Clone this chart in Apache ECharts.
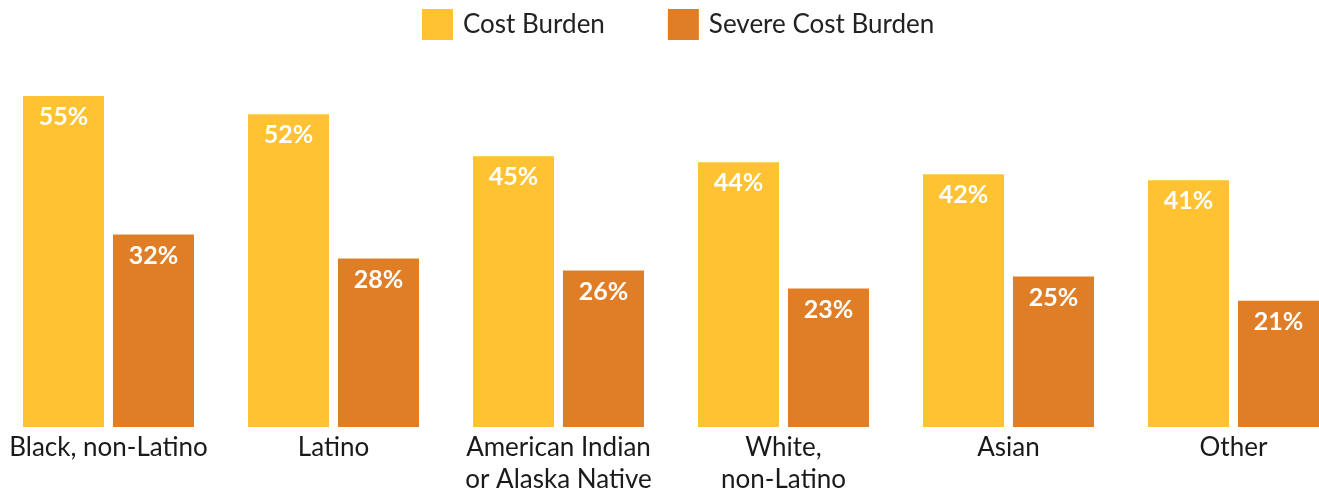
<!DOCTYPE html>
<html>
<head>
<meta charset="utf-8">
<script src="https://cdn.jsdelivr.net/npm/echarts@6/dist/echarts.min.js"></script>
<style>
html,body{margin:0;padding:0;background:#fff;}
#c{width:1319px;height:495px;}
</style>
</head>
<body>
<div id="c"></div>
<script>
const categories = ['Black, non-Latino', 'Latino', 'American Indian\nor Alaska Native', 'White,\nnon-Latino', 'Asian', 'Other'];
const costBurden = [55, 52, 45, 44, 42, 41];
const severeCostBurden = [32, 28, 26, 23, 25, 21];
const seriesNames = ['Cost Burden', 'Severe Cost Burden'];

const FONT = 'Lato';
const chart = echarts.init(document.getElementById('c'));
const labelCfg = {
  show: true,
  position: 'insideTop',
  distance: 7,
  color: '#fff',
  fontFamily: FONT,
  fontWeight: 'bold',
  fontSize: 25,
  lineHeight: 28,
  formatter: p => p.value + '%'
};
chart.setOption({
  animation: false,
  legend: {
    top: 4,
    left: 417,
    itemWidth: 31,
    itemHeight: 31,
    itemGap: 63,
    icon: 'rect',
    textStyle: {fontFamily: FONT, fontSize: 26, color: '#222', padding: [0, 0, 0, 5]},
    data: seriesNames
  },
  grid: {left: -4, width: 1350, top: 66, bottom: 68, containLabel: false, outerBoundsMode: 'none'},
  xAxis: {
    type: 'category',
    data: categories,
    axisLine: {show: false},
    axisTick: {show: false},
    axisLabel: {fontFamily: FONT, fontSize: 26, color: '#1a1a1a', lineHeight: 32, margin: 5, interval: 0}
  },
  yAxis: {type: 'value', min: 0, max: 60, show: false, splitLine: {show: false}},
  series: [
    {name: seriesNames[0], type: 'bar', data: costBurden, itemStyle: {color: '#FEC232'},
     barGap: '11%', barCategoryGap: '24%', label: labelCfg},
    {name: seriesNames[1], type: 'bar', data: severeCostBurden, itemStyle: {color: '#E07E27'},
     label: labelCfg}
  ]
});
</script>
</body>
</html>
